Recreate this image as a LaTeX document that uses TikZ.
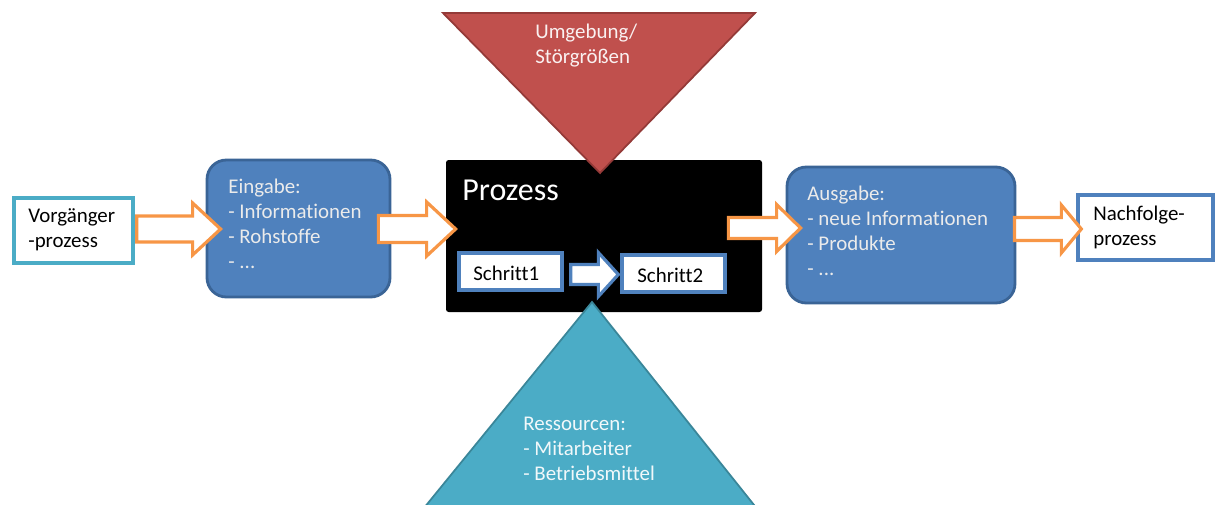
\documentclass[tikz,border=0pt]{standalone}
\usepackage{fontspec}
\setmainfont{Carlito}[Ligatures={NoCommon}]
\usetikzlibrary{calc}

\definecolor{accblue}{HTML}{4F81BD}
\definecolor{accblueline}{HTML}{3A6496}
\definecolor{acccyan}{HTML}{4BACC6}
\definecolor{acccyanline}{HTML}{3A8699}
\definecolor{accred}{HTML}{C0504D}
\definecolor{accredline}{HTML}{943A38}
\definecolor{accorange}{HTML}{F79646}

% block arrow from tail (#2) to tip (#3): shaft half-height #4, head half-height #5, head length #6
\newcommand\blockarrow[6]{%
  \draw[#1] ($(#2)+(0,-#4)$) -- ($(#3)+(-#6,-#4)$) -- ($(#3)+(-#6,-#5)$) -- (#3)
    -- ($(#3)+(-#6,#5)$) -- ($(#3)+(-#6,#4)$) -- ($(#2)+(0,#4)$) -- cycle;}

\begin{document}
\begin{tikzpicture}[x=0.02cm,y=-0.02cm,
  txt/.style={font=\fontsize{11.9pt}{14.2pt}\selectfont, inner sep=0pt, align=left},
  lighttxt/.style={txt, text=white!92!black},
  plainbox/.style={draw, fill=white, line width=1.9pt, inner sep=0pt},
  infobox/.style={draw=accblueline, fill=accblue, line width=1.6pt, rounded corners=11pt, inner sep=0pt},
  orangearrow/.style={draw=accorange, fill=white, line width=1.8pt, line join=miter},
  bluearrow/.style={draw=accblue, fill=white, line width=1.8pt, line join=miter},
]
\useasboundingbox (0,0) rectangle (1216,504);

% outer process chain (multi-line labels are placed by the baseline of their last line)
\node[plainbox, draw=acccyan, minimum width=119*0.02cm, minimum height=65*0.02cm] (vorg) at (73.5,230.5) {};
\node[txt, anchor=base west] (vorgtxt) at (28,247) {Vorgänger\\-prozess};

\node[infobox, minimum width=183*0.02cm, minimum height=137*0.02cm] (eing) at (298.5,228.5) {};
\node[lighttxt, anchor=base west] (eingtxt) at (228,268) {Eingabe:\\- Informationen\\- Rohstoffe\\- ...};

\node[fill=black, rounded corners=1.5pt, minimum width=316*0.02cm, minimum height=152*0.02cm, inner sep=0pt] (proz) at (604,236) {};
\node[anchor=base west, inner sep=0pt, text=white, font=\fontsize{18.2pt}{20pt}\selectfont] (proztxt) at (462,200) {Prozess};

\node[infobox, minimum width=228*0.02cm, minimum height=136*0.02cm] (ausg) at (901,235) {};
\node[lighttxt, anchor=base west] (ausgtxt) at (807,275) {Ausgabe:\\- neue Informationen\\- Produkte\\- ...};

\node[plainbox, draw=accblue, minimum width=135*0.02cm, minimum height=65*0.02cm] (nach) at (1145.5,227.5) {};
\node[txt, anchor=base west] (nachtxt) at (1093,245) {Nachfolge-\\prozess};

% steps inside the process
\node[plainbox, draw=accblue, minimum width=103*0.02cm, minimum height=37*0.02cm] (s1) at (510.5,271.5) {};
\node[txt, anchor=base west] (s1txt) at (473,280) {Schritt1};
\node[plainbox, draw=accblue, minimum width=103*0.02cm, minimum height=37*0.02cm] (s2) at (673.5,273.5) {};
\node[txt, anchor=base west] (s2txt) at (637,282) {Schritt2};

% block arrows
\coordinate (a1t) at ($(vorg.east)+(2,-1.5)$);
\coordinate (a1h) at ($(eing.west |- a1t)+(15,0)$);
\blockarrow{orangearrow}{a1t}{a1h}{13}{26}{28}

\coordinate (a2t) at ($(eing.east)+(-13,0.5)$);
\coordinate (a2h) at ($(proz.west |- a2t)+(10,0)$);
\blockarrow{orangearrow}{a2t}{a2h}{13.5}{27}{29}

\coordinate (a3t) at ($(proz.east)+(-34,-8)$);
\coordinate (a3h) at ($(ausg.west |- a3t)+(15,0)$);
\blockarrow{orangearrow}{a3t}{a3h}{10.5}{23.5}{24}

\coordinate (a4t) at ($(ausg.east)+(-2,-6)$);
\coordinate (a4h) at ($(nach.west |- a4t)+(5,0)$);
\blockarrow{orangearrow}{a4t}{a4h}{11.5}{24}{20}

\coordinate (a5t) at ($(s1.east)+(7,3)$);
\coordinate (a5h) at ($(s2.west |- a5t)+(-2,0)$);
\blockarrow{bluearrow}{a5t}{a5h}{10}{22}{20}

% environment / disturbances
\coordinate (redtip) at (600,173);
\draw[fill=accred, draw=accredline, line width=1pt, line join=miter] (443,13) -- (755,13) -- (redtip) -- cycle;
\node[anchor=base west, inner sep=0pt, align=left, text=white!92!accred, font=\fontsize{11.9pt}{14pt}\selectfont] (umgtxt) at (535,63) {Umgebung/\\Störgrößen};

% resources
\coordinate (cyantip) at (592,302);
\draw[fill=acccyan, draw=acccyanline, line width=1pt, line join=miter] (cyantip) -- (406,530) -- (774,530) -- cycle;
\node[anchor=base west, inner sep=0pt, align=left, text=white!92!acccyan, font=\fontsize{11.9pt}{14.2pt}\selectfont] (restxt) at (523,480) {Ressourcen:\\- Mitarbeiter\\- Betriebsmittel};
\end{tikzpicture}
\end{document}
